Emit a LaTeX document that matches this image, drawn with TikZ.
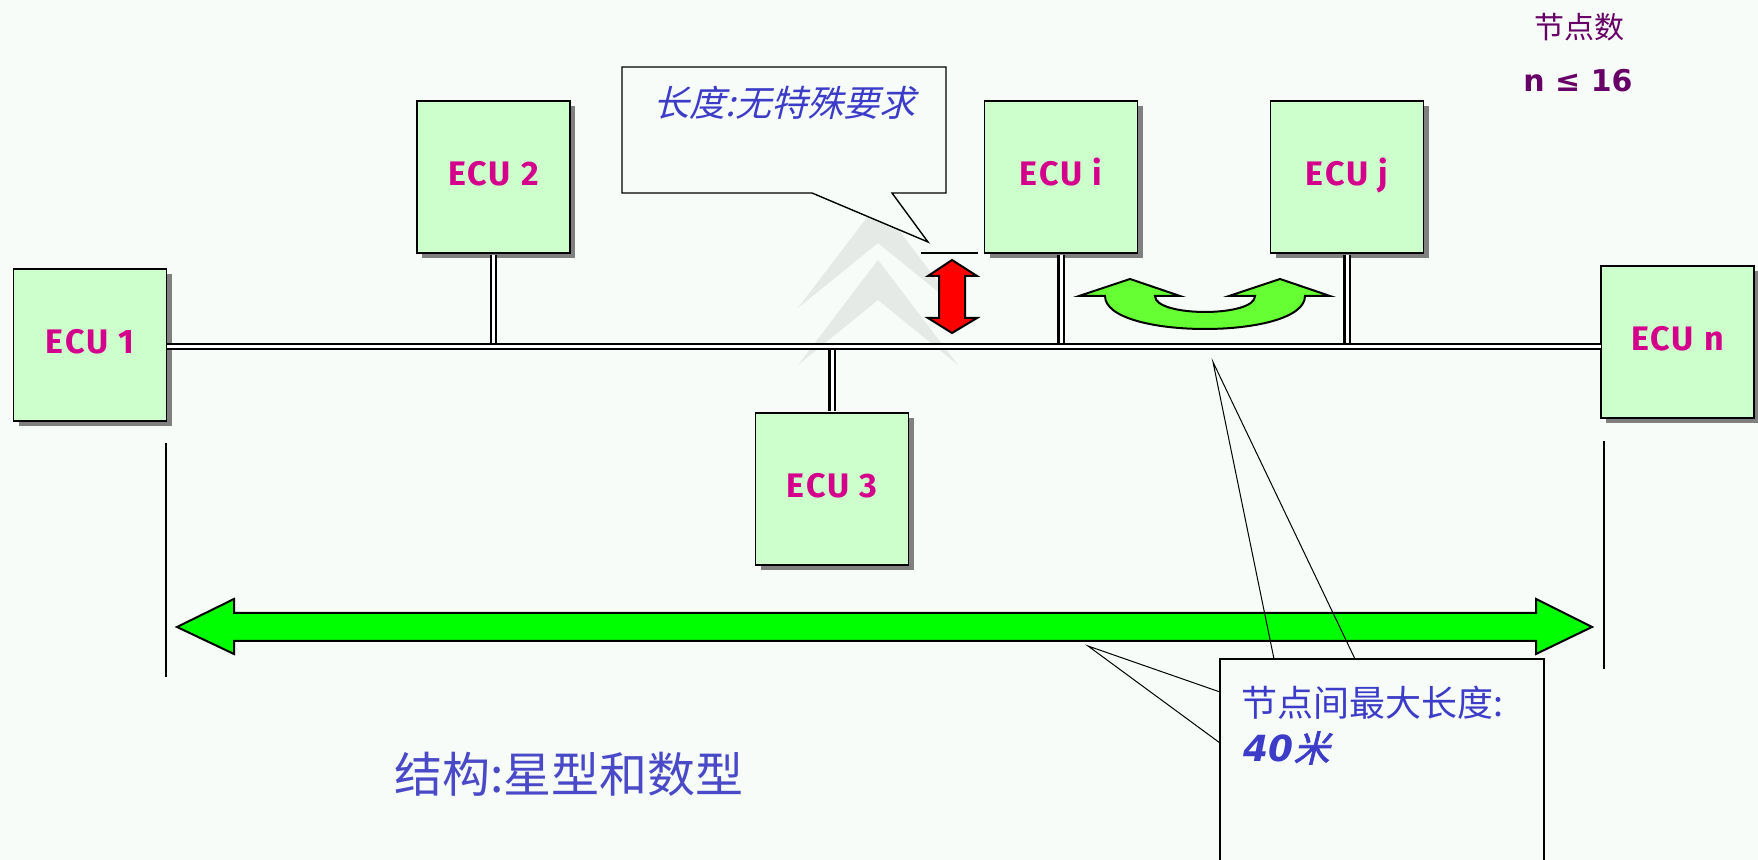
\documentclass[tikz,border=0pt]{standalone}
\usepackage{fontspec}
\usetikzlibrary{shadows}
\newfontfamily\ecufont{Fira Sans}[LetterSpace=6]
\newfontfamily\cjk{Noto Sans CJK SC}
\newfontfamily\cjkit{Noto Sans CJK SC}[FakeSlant=0.25]
\newfontfamily\cjkbit{Noto Sans CJK SC}[FakeSlant=0.25,FakeBold=2]
\newfontfamily\dvs{DejaVu Sans}
\definecolor{bg}{HTML}{F7FCF9}
\definecolor{ecufill}{HTML}{CCFFCC}
\definecolor{ecutext}{HTML}{D4008C}
\definecolor{calltext}{HTML}{3C3CC8}
\definecolor{titletext}{HTML}{4A4AC8}
\definecolor{purp}{HTML}{660066}
\definecolor{ugreen}{HTML}{66FF33}
\definecolor{biggreen}{HTML}{00FF00}
\definecolor{wm}{HTML}{E6EAE7}
\begin{document}
\begin{tikzpicture}[x=0.5pt,y=-0.5pt,
  ecu/.style={draw=black, line width=0.9pt, fill=ecufill,
    minimum width=76.5pt, minimum height=76pt, inner sep=0pt,
    text height=12pt, text depth=3pt,
    font=\ecufont\bfseries\fontsize{17}{19}\selectfont, text=ecutext,
    drop shadow={shadow xshift=2.6pt, shadow yshift=-2.6pt, fill=black!50, opacity=1}},
  bus/.style={draw=black, double=white, double distance=1.5pt, line width=1.1pt},
  callout/.style={draw=black, line width=0.7pt, fill=bg},
  leader/.style={draw=black, line width=0.5pt},
  limitline/.style={draw=black, line width=1pt},
  bigarrow/.style={draw=black, line width=1pt, fill=biggreen, line join=miter},
  uarrow/.style={draw=black, line width=1pt, fill=ugreen, line join=miter},
  redarrow/.style={draw=black, line width=1pt, fill=red, line join=miter},
  chev/.style={fill=wm, draw=none}
]
\useasboundingbox (0,0) rectangle (1758,860);
\fill[bg] (0,0) rectangle (1758,860);

% watermark chevrons
\fill[chev] (798,308) -- (878,203) -- (958,308) -- (878,243) -- cycle;
\fill[chev] (798,365) -- (878,260) -- (958,365) -- (878,300) -- cycle;

% big green double arrow and limit lines
\draw[bigarrow] (177,627) -- (234,599) -- (234,613) -- (1536,613) -- (1536,599)
  -- (1592,627) -- (1536,654) -- (1536,641) -- (234,641) -- (234,654) -- cycle;
\draw[limitline] (166,443) -- (166,677);
\draw[limitline] (1604,441) -- (1604,669);

% ECU nodes
\node[ecu] (e1) at (90,345) {ECU 1};
\node[ecu] (e2) at (493.5,177) {ECU 2};
\node[ecu] (e3) at (832,489) {ECU 3};
\node[ecu] (ei) at (1061,177) {ECU i};
\node[ecu] (ej) at (1347,177) {ECU j};
\node[ecu] (en) at (1677.5,342) {ECU n};

% bus
\coordinate (bl) at (167,346.5);
\coordinate (br) at (1601,346.5);
\draw[bus] ([yshift=-0.45pt]e2.south) -- (e2.south |- bl);
\draw[bus] ([yshift=-0.45pt]ei.south) -- (ei.south |- bl);
\draw[bus] ([yshift=-0.45pt]ej.south) -- (ej.south |- bl);
\draw[bus] ([yshift=0.45pt]e3.north) -- (e3.north |- bl);
\draw[bus] (bl) -- (br);

% red double arrow
\draw[redarrow] (952,260) -- (977,276) -- (965,276) -- (965,318) -- (977,318)
  -- (952,333) -- (928,318) -- (939,318) -- (939,276) -- (928,276) -- cycle;
\draw[limitline] (921,253) -- (978,253);

% green U-turn arrow
\draw[uarrow] (1079,296) -- (1130,279) -- (1180,296) -- (1155,296)
  .. controls (1155,317.3) and (1255,317.3) .. (1255,296)
  -- (1229,296) -- (1280,279) -- (1330,296) -- (1305,296)
  .. controls (1305,340) and (1105,340) .. (1105,296) -- cycle;

% callout 1
\draw[callout] (622,67) -- (946,67) -- (946,193) -- (892,193) -- (928,242)
  -- (812,193) -- (622,193) -- cycle;
\node[anchor=west, inner sep=0pt, font=\cjkit\fontsize{18}{20}\selectfont, text=calltext]
  (t1) at (653,103) {长度:无特殊要求};

% callout 2
\draw[callout] (1220,659) rectangle (1544,880);
\coordinate (tipA) at (1088,646);
\coordinate (tipB) at (1213,362);
\coordinate (c2a) at (1220,692);
\coordinate (c2b) at (1220,743);
\coordinate (c2c) at (1274,659);
\coordinate (c2d) at (1355,659);
\draw[leader] (c2a) -- (tipA) -- (c2b);
\draw[leader] (c2c) -- (tipB) -- (c2d);
\node[anchor=west, inner sep=0pt, font=\cjk\fontsize{18}{20}\selectfont, text=calltext]
  (t2) at (1241,703) {节点间最大长度:};
\node[anchor=west, inner sep=0pt, text=calltext]
  (t3) at (1243,748) {{\dvs\bfseries\itshape\fontsize{18}{20}\selectfont 40}{\cjkbit\fontsize{18}{20}\selectfont 米}};

% title and node count
\node[anchor=west, inner sep=0pt, font=\cjk\fontsize{24}{27}\selectfont, text=titletext]
  (title) at (394,774) {结构:星型和数型};
\node[inner sep=0pt, font=\cjk\fontsize{15}{17}\selectfont, text=purp] (nc) at (1579,27) {节点数};
\node[inner sep=0pt, font=\dvs\bfseries\fontsize{15}{17}\selectfont, text=purp] (nle) at (1578,81) {n ≤ 16};
\end{tikzpicture}
\end{document}
